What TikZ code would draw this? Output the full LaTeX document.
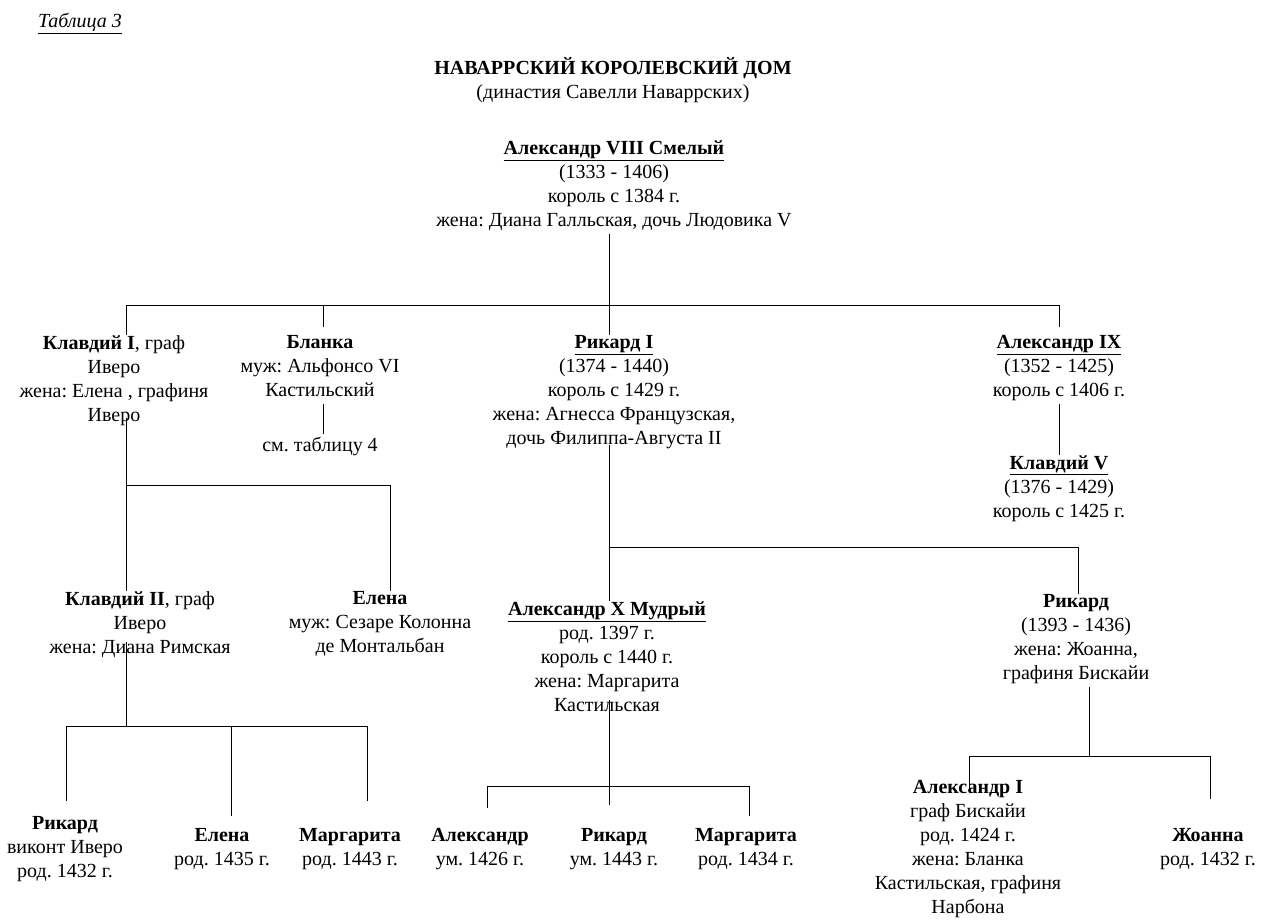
\documentclass[tikz,border=0pt]{standalone}
\usepackage{fontspec}
\setmainfont{Liberation Serif}
\usepackage{tikz}
\usetikzlibrary{positioning}
\frenchspacing
\tikzset{
  lico/.style={align=center,inner sep=0pt,anchor=north,
    font=\fontsize{15}{18}\selectfont,execute at begin node=\strut},
  svyaz/.style={line width=0.75pt},
}
\newcommand{\imya}[1]{\underline{\textbf{#1}}}

\begin{document}
\begin{tikzpicture}[x=0.75pt,y=-0.75pt]
  \useasboundingbox (0,0) rectangle (1264,921);
  % Заголовок
  \node[lico] (tabl) at (80,10) {\underline{\itshape Таблица 3}};
  \node[lico] (zag) at (613,57)
    {\textbf{НАВАРРСКИЙ КОРОЛЕВСКИЙ ДОМ}\\(династия Савелли Наваррских)};
  % Основатель
  \node[lico] (alex8) at (614,140)
    {\imya{Александр VIII Смелый}\\(1333 - 1406)\\король с 1384 г.\\
     жена: Диана Галльская, дочь Людовика V};
  % Дети
  \node[lico] (klav1) at (114,335)
    {\textbf{Клавдий I}, граф\\Иверо\\жена: Елена , графиня\\Иверо};
  \node[lico] (blanka) at (320,335)
    {\textbf{Бланка}\\муж: Альфонсо VI\\Кастильский};
  \node[lico] (tab4) at (320,434) {см. таблицу 4};
  \node[lico] (rik1) at (614,335)
    {\imya{Рикард I}\\(1374 - 1440)\\король с 1429 г.\\
     жена: Агнесса Французская,\\дочь Филиппа-Августа II};
  \node[lico] (alex9) at (1059,335)
    {\imya{Александр IX}\\(1352 - 1425)\\король с 1406 г.};
  \node[lico] (klav5) at (1059,455)
    {\imya{Клавдий V}\\(1376 - 1429)\\король с 1425 г.};
  % Внуки
  \node[lico] (klav2) at (140,591)
    {\textbf{Клавдий II}, граф\\Иверо\\жена: Диана Римская};
  \node[lico] (elena) at (380,591)
    {\textbf{Елена}\\муж: Сезаре Колонна\\де Монтальбан};
  \node[lico] (alex10) at (607,601)
    {\imya{Александр X Мудрый}\\род. 1397 г.\\король с 1440 г.\\
     жена: Маргарита\\Кастильская};
  \node[lico] (rik) at (1076,594)
    {\textbf{Рикард}\\(1393 - 1436)\\жена: Жоанна,\\графиня Бискайи};
  % Правнуки
  \node[lico] (rikV) at (65,816)
    {\textbf{Рикард}\\виконт Иверо\\род. 1432 г.};
  \node[lico] (elenaB) at (222,828) {\textbf{Елена}\\род. 1435 г.};
  \node[lico] (margB) at (350,828) {\textbf{Маргарита}\\род. 1443 г.};
  \node[lico] (alexB) at (480,828) {\textbf{Александр}\\ум. 1426 г.};
  \node[lico] (rikB) at (614,828) {\textbf{Рикард}\\ум. 1443 г.};
  \node[lico] (margC) at (746,828) {\textbf{Маргарита}\\род. 1434 г.};
  \node[lico] (alex1) at (968,780)
    {\textbf{Александр I}\\граф Бискайи\\род. 1424 г.\\жена: Бланка\\
     Кастильская, графиня\\Нарбона};
  \node[lico] (zho) at (1208,828) {\textbf{Жоанна}\\род. 1432 г.};

  % Связи: Александр VIII
  \coordinate (j1) at (609,305);
  \coordinate (j1L) at (126,305);
  \coordinate (j1B) at (323,305);
  \coordinate (j1R) at (1059,305);
  \draw[svyaz] (j1 |- alex8.south) -- (j1);
  \draw[svyaz] (j1L) -- (j1R);
  \draw[svyaz] (j1L) -- (j1L |- klav1.north);
  \draw[svyaz,shorten >=6pt] (j1B) -- (j1B |- blanka.north);
  \draw[svyaz] (j1) -- (j1 |- rik1.north);
  \draw[svyaz,shorten >=6pt] (j1R) -- (alex9.north);
  \draw[svyaz] (j1B |- blanka.south) -- (j1B |- tab4.north);
  \draw[svyaz] (alex9.south) -- (klav5.north);
  % Клавдий I
  \coordinate (j2L) at (126,485);
  \coordinate (j2R) at (390,485);
  \draw[svyaz,shorten <=-8pt] (j2L |- klav1.south) -- (j2L) -- (j2R)
    -- (j2R |- elena.north);
  \draw[svyaz] (j2L) -- (j2L |- klav2.north);
  % Рикард I
  \coordinate (j3L) at (609,547);
  \coordinate (j3R) at (1078,547);
  \draw[svyaz,shorten <=-5pt] (j3L |- rik1.south) -- (j3L |- alex10.north);
  \draw[svyaz] (j3L) -- (j3R) -- (j3R |- rik.north);
  % Клавдий II
  \coordinate (j4) at (126,726);
  \coordinate (j4L) at (66,726);
  \coordinate (j4M) at (231,726);
  \coordinate (j4R) at (367,726);
  \draw[svyaz,shorten <=-14pt] (j4 |- klav2.south) -- (j4);
  \draw[svyaz] (j4L) -- (j4R);
  \draw[svyaz,shorten >=11pt] (j4L) -- (j4L |- rikV.north);
  \draw[svyaz,shorten >=9pt] (j4M) -- (j4M |- elenaB.north);
  \draw[svyaz,shorten >=20pt] (j4R) -- (j4R |- margB.north);
  % Александр X
  \coordinate (j5) at (609,786);
  \coordinate (j5L) at (487,786);
  \coordinate (j5R) at (749,786);
  \draw[svyaz,shorten <=-14pt,shorten >=17pt] (j5 |- alex10.south)
    -- (j5 |- rikB.north);
  \draw[svyaz] (j5L) -- (j5R);
  \draw[svyaz,shorten >=15pt] (j5L) -- (j5L |- alexB.north);
  \draw[svyaz,shorten >=9pt] (j5R) -- (j5R |- margC.north);
  % Рикард
  \coordinate (j6) at (1089,756);
  \coordinate (j6L) at (969,756);
  \coordinate (j6R) at (1210,756);
  \draw[svyaz] (j6 |- rik.south) -- (j6);
  \draw[svyaz] (j6L) -- (j6R);
  \draw[svyaz,shorten >=-7pt] (j6L) -- (j6L |- alex1.north);
  \draw[svyaz,shorten >=22pt] (j6R) -- (j6R |- zho.north);
\end{tikzpicture}
\end{document}
